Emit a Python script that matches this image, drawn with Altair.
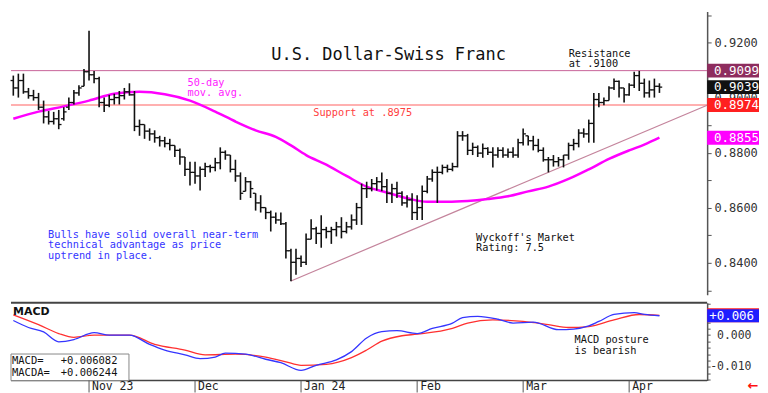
import altair as alt
import pandas as pd

# ---------------- data ----------------
high = [0.9081,0.9088,0.9088,0.9036,0.9029,0.9018,0.8990,0.8952,0.8949,0.8956,
        0.8966,0.9001,0.9029,0.9046,0.9105,0.9244,0.9098,0.9077,0.9001,0.9011,
        0.9015,0.9025,0.9036,0.9053,0.9025,0.8921,0.8903,0.8889,0.8882,0.8862,
        0.8858,0.8851,0.8827,0.8816,0.8785,0.8768,0.8768,0.8750,0.8764,0.8757,
        0.8782,0.8820,0.8809,0.8792,0.8775,0.8729,0.8712,0.8698,0.8653,0.8646,
        0.8601,0.8590,0.8583,0.8583,0.8549,0.8451,0.8451,0.8427,0.8507,0.8559,
        0.8531,0.8573,0.8531,0.8531,0.8549,0.8566,0.8549,0.8576,0.8618,0.8688,
        0.8695,0.8705,0.8712,0.8729,0.8705,0.8688,0.8695,0.8660,0.8646,0.8653,
        0.8646,0.8681,0.8716,0.8740,0.8750,0.8757,0.8757,0.8764,0.8879,0.8879,
        0.8869,0.8837,0.8827,0.8834,0.8820,0.8820,0.8820,0.8820,0.8816,0.8820,
        0.8851,0.8889,0.8862,0.8862,0.8851,0.8820,0.8785,0.8792,0.8785,0.8792,
        0.8837,0.8851,0.8886,0.8889,0.8921,0.9018,0.9018,0.9001,0.9042,0.9070,
        0.9063,0.9036,0.9053,0.9095,0.9098,0.9070,0.9063,0.9070,0.9053]
low = [0.9008,0.9001,0.9015,0.8997,0.8990,0.8956,0.8907,0.8903,0.8903,0.8886,
       0.8917,0.8956,0.8976,0.9008,0.9042,0.9063,0.9053,0.8966,0.8949,0.8966,
       0.8976,0.8976,0.8994,0.9008,0.8879,0.8862,0.8851,0.8844,0.8837,0.8823,
       0.8820,0.8809,0.8785,0.8757,0.8716,0.8681,0.8688,0.8663,0.8712,0.8729,
       0.8733,0.8740,0.8775,0.8729,0.8695,0.8629,0.8660,0.8636,0.8590,0.8583,
       0.8559,0.8514,0.8542,0.8538,0.8416,0.8333,0.8357,0.8385,0.8392,0.8486,
       0.8469,0.8455,0.8489,0.8469,0.8496,0.8489,0.8507,0.8521,0.8538,0.8538,
       0.8636,0.8660,0.8663,0.8660,0.8618,0.8618,0.8636,0.8608,0.8601,0.8556,
       0.8556,0.8556,0.8653,0.8695,0.8618,0.8722,0.8729,0.8733,0.8747,0.8844,
       0.8792,0.8792,0.8785,0.8782,0.8792,0.8747,0.8782,0.8782,0.8782,0.8782,
       0.8782,0.8827,0.8827,0.8809,0.8802,0.8768,0.8729,0.8750,0.8750,0.8747,
       0.8775,0.8809,0.8820,0.8855,0.8837,0.8837,0.8966,0.8973,0.8990,0.9029,
       0.9001,0.8983,0.9008,0.9036,0.9025,0.9001,0.9001,0.9001,0.9018]
opens = [0.9063,0.9036,0.9063,0.9022,0.9008,0.9001,0.8966,0.8931,0.8914,0.8924,
         0.8924,0.8966,0.8983,0.9018,0.9042,0.9095,0.9084,0.9070,0.8983,0.8973,
         0.8994,0.9001,0.9008,0.9022,0.9011,0.8896,0.8903,0.8879,0.8869,0.8855,
         0.8844,0.8834,0.8827,0.8809,0.8785,0.8740,0.8729,0.8716,0.8740,0.8750,
         0.8747,0.8764,0.8802,0.8792,0.8740,0.8716,0.8660,0.8695,0.8653,0.8618,
         0.8601,0.8583,0.8566,0.8556,0.8542,0.8444,0.8402,0.8416,0.8402,0.8486,
         0.8524,0.8507,0.8521,0.8514,0.8521,0.8531,0.8514,0.8531,0.8556,0.8601,
         0.8670,0.8670,0.8688,0.8695,0.8677,0.8653,0.8670,0.8653,0.8618,0.8629,
         0.8583,0.8601,0.8660,0.8705,0.8729,0.8729,0.8747,0.8740,0.8750,0.8862,
         0.8862,0.8809,0.8820,0.8799,0.8816,0.8802,0.8792,0.8809,0.8792,0.8802,
         0.8792,0.8837,0.8862,0.8844,0.8827,0.8809,0.8775,0.8775,0.8768,0.8775,
         0.8792,0.8827,0.8834,0.8872,0.8869,0.8907,0.8994,0.8983,0.8990,0.9036,
         0.9060,0.9036,0.9011,0.9046,0.9081,0.9053,0.9018,0.9029,0.9042]
close = [0.9036,0.9063,0.9022,0.9008,0.9001,0.8966,0.8931,0.8914,0.8924,0.8903,
         0.8949,0.8983,0.9018,0.9036,0.9095,0.9084,0.9070,0.8983,0.8973,0.8994,
         0.9001,0.9008,0.9022,0.9011,0.8896,0.8903,0.8879,0.8869,0.8855,0.8844,
         0.8834,0.8827,0.8809,0.8785,0.8740,0.8729,0.8716,0.8740,0.8750,0.8747,
         0.8764,0.8802,0.8792,0.8740,0.8716,0.8653,0.8695,0.8670,0.8618,0.8601,
         0.8583,0.8566,0.8556,0.8542,0.8444,0.8402,0.8416,0.8402,0.8486,0.8524,
         0.8507,0.8521,0.8514,0.8521,0.8531,0.8514,0.8531,0.8556,0.8601,0.8670,
         0.8670,0.8688,0.8695,0.8677,0.8653,0.8670,0.8653,0.8618,0.8629,0.8583,
         0.8601,0.8660,0.8705,0.8729,0.8729,0.8747,0.8740,0.8750,0.8862,0.8862,
         0.8809,0.8820,0.8799,0.8816,0.8802,0.8792,0.8809,0.8792,0.8802,0.8792,
         0.8837,0.8869,0.8844,0.8827,0.8809,0.8775,0.8775,0.8768,0.8775,0.8792,
         0.8827,0.8834,0.8872,0.8869,0.8907,0.8994,0.8983,0.8990,0.9036,0.9060,
         0.9036,0.9011,0.9046,0.9081,0.9053,0.9018,0.9029,0.9042,0.9039]

ma_idx = [0, 5, 10, 15, 20, 25, 30, 35, 40, 44, 48, 52, 55, 58, 62, 66, 70, 74, 78,
          82, 86, 90, 94, 98, 102, 106, 110, 114, 118, 122, 125, 128]
ma_val = [0.8924, 0.8950, 0.8969, 0.8990, 0.9015, 0.9022, 0.9013, 0.8990, 0.8950, 0.8914,
          0.8882, 0.8858, 0.8827, 0.8792, 0.8757, 0.8716, 0.8677, 0.8656, 0.8635, 0.8622,
          0.8622, 0.8625, 0.8632, 0.8642, 0.8660, 0.8677, 0.8705, 0.8740, 0.8778, 0.8809,
          0.8830, 0.8855]

macd_idx = [0, 3, 6, 9, 12, 16, 19, 23, 27, 30, 34, 37, 40, 42, 46, 50, 53, 57, 60, 64,
            67, 70, 73, 76, 80, 83, 87, 89, 92, 96, 99, 103, 108, 111, 114, 116, 119, 123,
            125, 128]
macd_val = [0.0046, 0.0024, 0.0010, -0.0021, -0.0014, 0.0008, 0.0000, 0.0000, -0.0029,
            -0.0047, -0.0062, -0.0074, -0.0069, -0.0057, -0.0060, -0.0076, -0.0087, -0.0111,
            -0.0095, -0.0078, -0.0052, -0.0009, 0.0011, 0.0014, 0.0005, 0.0021, 0.0038,
            0.0055, 0.0059, 0.0050, 0.0038, 0.0041, 0.0017, 0.0019, 0.0029, 0.0043, 0.0065,
            0.0071, 0.0065, 0.0061]
sig_idx = [0, 5, 9, 12, 16, 23, 28, 34, 38, 44, 50, 54, 57, 62, 67, 70, 73, 77, 80, 87,
           90, 95, 101, 106, 110, 114, 119, 124, 128]
sig_val = [0.0064, 0.0033, 0.0005, -0.0007, 0.0000, 0.0000, -0.0029, -0.0047, -0.0062,
           -0.0060, -0.0069, -0.0084, -0.0095, -0.0092, -0.0071, -0.0047, -0.0019, -0.0002,
           0.0003, 0.0021, 0.0038, 0.0048, 0.0043, 0.0033, 0.0024, 0.0027, 0.0048, 0.0065,
           0.0062]

month_idx = [15, 36, 57, 80, 101, 122]
month_lbl = ["Nov 23", "Dec", "Jan 24", "Feb", "Mar", "Apr"]

resistance = 0.9099
support = 0.8974
last_close = 0.9039
ma_last = 0.8855
trend_idx = [55, 137.45]
trend_val = [0.8334, 0.8973]
macd_last = 0.006082
macda_last = 0.006244

price_ticks = [0.83, 0.84, 0.85, 0.86, 0.87, 0.88, 0.89, 0.90, 0.91, 0.92, 0.93]
macd_ticks = [-0.014, -0.012, -0.010, -0.008, -0.006, -0.004, -0.002, 0.0,
              0.002, 0.004, 0.006, 0.008, 0.010]

# ---------------- layout ----------------
W, HP, HM = 698, 284, 78
SX = W / 714.0
SY = HP / 296.0
SM = HM / 85.7
MONO = "DejaVu Sans Mono"

xs = alt.Scale(domain=[-0.46, 137.45], nice=False, zero=False)
ys = alt.Scale(domain=[0.8284, 0.9314], nice=False, zero=False)
ms = alt.Scale(domain=[-0.0143, 0.0102], nice=False, zero=False)

ax_p = alt.Axis(orient="right", values=price_ticks, title=None, grid=False,
                labelExpr="round(datum.value*100) % 2 == 0 ? format(datum.value, '.4f') : ''",
                labelFont=MONO, labelFontSize=12, labelColor="#333", labelPadding=3,
                labelOverlap=False, labelFlush=False, tickSize=4, tickColor="#555",
                domainColor="#555", domainWidth=1.5)
ax_m = alt.Axis(orient="right", values=macd_ticks, title=None, grid=False,
                labelExpr="abs(datum.value) < 1e-9 || abs(datum.value + 0.01) < 1e-9 ? replace(format(datum.value, '.3f'), '\u2212', '-') : ''",
                labelFont=MONO, labelFontSize=11.5, labelColor="#333", labelPadding=41,
                labelAlign="right", labelOverlap=False, labelFlush=False, tickSize=3,
                tickColor="#555", domainColor="#555", domainWidth=1.5)

XI = lambda f: alt.X(f, type="quantitative", scale=xs, axis=None)
YP = lambda f: alt.Y(f, type="quantitative", scale=ys, axis=ax_p)
YM = lambda f: alt.Y(f, type="quantitative", scale=ms, axis=ax_m)

one = pd.DataFrame({"a": [0]})


def label(s, x, y, color="#111", size=10.3, weight="normal", font=MONO, lh=None):
    return alt.Chart(pd.DataFrame({"t": [s]})).mark_text(
        align="left", baseline="top", font=font, fontSize=size, fontWeight=weight,
        color=color, lineBreak="\n", lineHeight=lh if lh else size
    ).encode(x=alt.value(x), y=alt.value(y), text="t:N")


# ---------------- price panel ----------------
bars_df = pd.DataFrame({"i": list(range(len(high))), "high": high, "low": low,
                        "open": opens, "close": close})

hl = alt.Chart(bars_df).mark_rule(color="#111", strokeWidth=1.6).encode(
    x=XI("i"), y=YP("high"), y2="low")
op = alt.Chart(bars_df).transform_calculate(i0="datum.i - 0.55").mark_rule(
    color="#111", strokeWidth=1.3).encode(x=XI("i0"), x2="i", y=YP("open"))
cl = alt.Chart(bars_df).transform_calculate(i1="datum.i + 0.55").mark_rule(
    color="#111", strokeWidth=1.3).encode(x=XI("i"), x2="i1", y=YP("close"))

res_rule = alt.Chart(pd.DataFrame({"v": [resistance]})).mark_rule(
    color="#c8649a", strokeWidth=1).encode(y=YP("v"))
sup_rule = alt.Chart(pd.DataFrame({"v": [support]})).mark_rule(
    color="#ff6060", strokeWidth=1).encode(y=YP("v"))
trend = alt.Chart(pd.DataFrame({"i": trend_idx, "v": trend_val})).mark_line(
    color="#c4849c", strokeWidth=1.2).encode(x=XI("i"), y=YP("v"))
ma = alt.Chart(pd.DataFrame({"i": ma_idx, "v": ma_val})).mark_line(
    color="#ff00ff", strokeWidth=2.5, interpolate="monotone").encode(x=XI("i"), y=YP("v"))


def pbox(v, color):
    d = pd.DataFrame({"v": [v]})
    b = alt.Chart(d).mark_tick(orient="horizontal", thickness=14, color=color, opacity=1).encode(
        x=alt.value(W + 26), y=YP("v"), size=alt.value(52))
    t = alt.Chart(d).mark_text(align="left", baseline="middle", font=MONO, fontSize=12.5,
                               color="white").encode(
        x=alt.value(W + 7), y=YP("v"), text=alt.Text("v:Q", format=".4f"))
    return [b, t]


boxes = pbox(resistance, "#8e2c5e") + pbox(last_close, "#111111") + \
    pbox(support, "#ff2020") + pbox(ma_last, "#ff00ff")

texts_p = [
    label("U.S. Dollar-Swiss Franc", 267 * SX, 37 * SY, size=17),
    label("Resistance\nat .9100", 572 * SX, 39 * SY, lh=10.6),
    label("50-day\nmov. avg.", 181 * SX, 69 * SY, color="#ff22ff", lh=11),
    label("Support at .8975", 310 * SX, 101 * SY, color="#ff4040"),
    label("Bulls have solid overall near-term\ntechnical advantage as price\nuptrend in place.",
          38 * SX, 228 * SY, color="#3535ff", lh=10.6),
    label("Wyckoff's Market\nRating: 7.5", 477 * SX, 231 * SY, lh=10.8),
]

top = alt.layer(res_rule, sup_rule, trend, ma, hl, op, cl, *boxes, *texts_p).properties(
    width=W, height=HP)

# ---------------- MACD panel ----------------
sep = alt.Chart(one).mark_rule(color="#444", strokeWidth=2).encode(
    x=alt.value(0), x2=alt.value(W), y=alt.value(0))
bot = alt.Chart(one).mark_rule(color="#444", strokeWidth=1.5).encode(
    x=alt.value(0), x2=alt.value(W), y=alt.value(HM))

sig_line = alt.Chart(pd.DataFrame({"i": sig_idx, "v": sig_val})).mark_line(
    color="#ff3030", strokeWidth=1.3, interpolate="monotone").encode(x=XI("i"), y=YM("v"))
macd_line = alt.Chart(pd.DataFrame({"i": macd_idx, "v": macd_val})).mark_line(
    color="#3535ff", strokeWidth=1.3, interpolate="monotone").encode(x=XI("i"), y=YM("v"))

mred = alt.Chart(pd.DataFrame({"v": [macda_last]})).mark_tick(
    orient="horizontal", thickness=14, color="#ff2020", opacity=1).encode(
    x=alt.value(W + 26), y=YM("v"), size=alt.value(52))
mblue = alt.Chart(pd.DataFrame({"v": [macd_last]})).mark_tick(
    orient="horizontal", thickness=13, color="#1e1eff", opacity=1).encode(
    x=alt.value(W + 26), y=YM("v"), size=alt.value(52))
mtext = alt.Chart(pd.DataFrame({"v": [macd_last]})).mark_text(
    align="left", baseline="middle", font=MONO, fontSize=12.5, color="white").encode(
    x=alt.value(W + 2), y=YM("v"), text=alt.Text("v:Q", format="+.3f"))

vbox = alt.Chart(one).mark_rect(fill="white", stroke="#888", strokeWidth=1).encode(
    x=alt.value(0), x2=alt.value(121 * SX), y=alt.value(56.5 * SM), y2=alt.value(HM))
vt = [
    label("MACD=", 1, 59 * SM, size=10.5),
    label(f"{macd_last:+.6f}", 51 * SX, 59 * SM, size=10.5),
    label("MACDA=", 1, 71.5 * SM, size=10.5),
    label(f"{macda_last:+.6f}", 51 * SX, 71.5 * SM, size=10.5),
]

mtitle = label("MACD", 2, 4 * SM, size=11, weight="bold", font="DejaVu Sans")
mpost = label("MACD posture\nis bearish", 578 * SX, 36 * SM, lh=10.8)

mdf = pd.DataFrame({"i": month_idx, "t": month_lbl})
mticks = alt.Chart(mdf).mark_rule(color="#555", strokeWidth=1).encode(
    x=XI("i"), y=alt.value(HM), y2=alt.value(HM + 12))
mlabels = alt.Chart(mdf).mark_text(align="left", baseline="top", font=MONO, fontSize=11.5,
                                   color="#222", dx=3).encode(
    x=XI("i"), y=alt.value(HM + 1), text="t:N")
arrow = alt.Chart(pd.DataFrame({"t": ["\u2190"]})).mark_text(
    align="center", baseline="middle", font="DejaVu Sans", fontSize=13, fontWeight="bold",
    color="#ff1010").encode(x=alt.value(W + 46), y=alt.value(HM + 6), text="t:N")

bottom = alt.layer(sep, bot, sig_line, macd_line, mred, mblue, mtext, vbox, *vt, mtitle,
                   mpost, mticks, mlabels, arrow).properties(width=W, height=HM)

chart = alt.vconcat(top, bottom, spacing=0).properties(
    padding={"left": 0, "top": 0, "right": 0, "bottom": 0}
).configure(background="white").configure_view(stroke=None)

chart.save("out.html", embed_options={"renderer": "svg", "actions": False})
